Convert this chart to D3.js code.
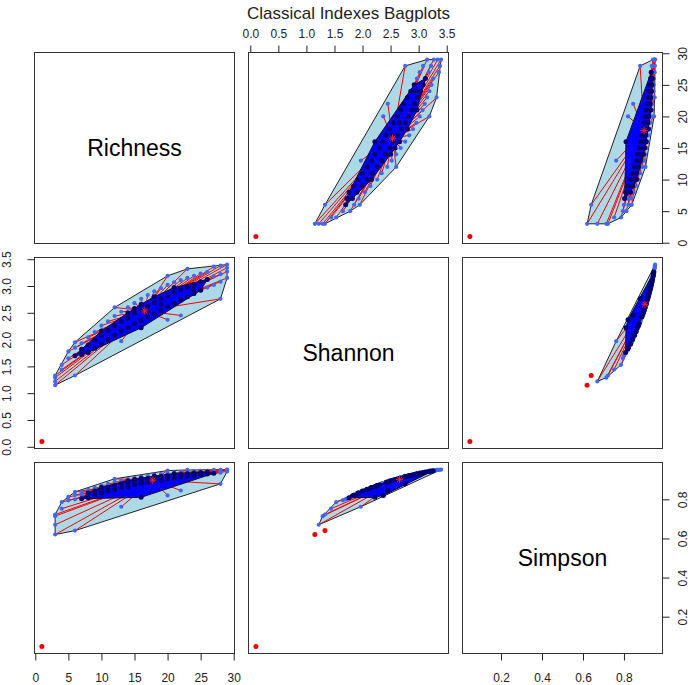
<!DOCTYPE html>
<meta charset="utf-8">
<style>
body { margin: 0; background: #fff; }
text { font-family: "Liberation Sans", Arial, sans-serif; }
.box { fill: none; stroke: #333; stroke-width: 1px; }
.loop { fill: lightblue; stroke: #222; stroke-width: 1px; }
.bag { fill: #0000ff; stroke: #111; stroke-width: 1px; }
.whisker { stroke: red; stroke-width: 1px; }
</style>
<body>
<script src="https://d3js.org/d3.v7.min.js"></script>
<script>

// variables (diagonal labels)
var varNames = ["Richness", "Shannon", "Simpson"];

// one entry per sample
var richness = [1, 3, 6, 3, 3, 3, 4, 4, 5, 5,
  6, 6, 6, 7, 7, 7, 8, 8, 8, 9,
  9, 9, 10, 10, 10, 11, 11, 11, 12, 12,
  12, 12, 13, 13, 13, 13, 14, 14, 14, 15,
  15, 15, 16, 16, 16, 16, 17, 17, 17, 18,
  18, 18, 19, 19, 19, 20, 20, 20, 20, 20,
  21, 21, 21, 22, 22, 22, 22, 23, 23, 23,
  23, 24, 24, 24, 25, 25, 25, 26, 26, 26,
  27, 27, 27, 28, 28, 28, 28, 29, 29, 29,
  29, 10, 14, 18, 16, 19, 21, 24, 17, 15];

var shannon = [0.10, 1.15, 1.33, 1.22, 1.29, 1.33, 1.44, 1.53, 1.65, 1.78,
  1.95, 1.70, 1.85, 1.72, 1.93, 1.82, 2.04, 1.76, 1.90, 2.14,
  1.84, 1.99, 2.26, 1.92, 2.08, 2.34, 2.00, 2.17, 2.60, 2.44,
  2.08, 2.26, 1.97, 2.52, 2.16, 2.34, 2.60, 2.22, 2.41, 2.68,
  2.30, 2.49, 2.22, 2.76, 2.36, 2.56, 2.83, 2.42, 2.62, 2.90,
  2.48, 2.69, 2.96, 2.55, 2.76, 3.19, 2.37, 2.62, 2.82, 3.02,
  2.68, 2.88, 3.07, 2.45, 2.74, 2.93, 3.11, 3.32, 2.80, 2.98,
  3.15, 2.86, 3.03, 3.19, 2.92, 3.08, 3.23, 2.97, 3.12, 3.26,
  3.36, 3.02, 3.18, 3.38, 2.76, 3.08, 3.22, 3.40, 3.27, 3.15,
  3.34, 2.16, 2.50, 2.80, 2.66, 2.66, 2.97, 2.95, 2.52, 2.58];

var simpson = [0.048, 0.620, 0.640, 0.670, 0.714, 0.722, 0.752, 0.786, 0.795, 0.812,
  0.838, 0.800, 0.822, 0.803, 0.836, 0.818, 0.848, 0.808, 0.832, 0.858,
  0.822, 0.843, 0.870, 0.832, 0.852, 0.880, 0.842, 0.862, 0.905, 0.889,
  0.850, 0.870, 0.762, 0.896, 0.860, 0.880, 0.903, 0.866, 0.887, 0.910,
  0.875, 0.894, 0.810, 0.916, 0.882, 0.900, 0.921, 0.887, 0.905, 0.926,
  0.893, 0.911, 0.930, 0.899, 0.916, 0.947, 0.820, 0.904, 0.920, 0.934,
  0.909, 0.924, 0.937, 0.845, 0.914, 0.928, 0.940, 0.950, 0.918, 0.931,
  0.942, 0.922, 0.934, 0.944, 0.927, 0.937, 0.945, 0.930, 0.939, 0.946,
  0.950, 0.933, 0.942, 0.951, 0.879, 0.936, 0.944, 0.952, 0.947, 0.942,
  0.950, 0.861, 0.895, 0.919, 0.908, 0.908, 0.931, 0.929, 0.896, 0.901];

// samples drawn as red outliers in each pair of indexes
var outliersRichShan = [0];
var outliersRichSimp = [0];
var outliersShanSimp = [0, 1, 2];

// tick labels
var ticksRichness = [0, 5, 10, 15, 20, 25, 30];
var ticksShannon = [0.0, 0.5, 1.0, 1.5, 2.0, 2.5, 3.0, 3.5];
var ticksSimpson = [0.2, 0.4, 0.6, 0.8];

var series = [richness, shannon, simpson];
var outliers = {"0-1": outliersRichShan, "0-2": outliersRichSimp, "1-2": outliersShanSimp};

// panel layout
var panelW = 200, panelH = 191, gap = 14, offX = 34.5, offY = 52.5;
var colX = [0, 1, 2].map(function(j) { return offX + j * (panelW + gap); });
var rowY = [0, 1, 2].map(function(i) { return offY + i * (panelH + gap); });

// R style 4% padding on every range
var domains = series.map(function(v) {
  var e = d3.extent(v), p = (e[1] - e[0]) * 0.04;
  return [e[0] - p, e[1] + p];
});

var svg = d3.select("body").append("svg")
  .attr("width", 690)
  .attr("height", 685);

// exact halfspace (Tukey) depth of location p among pts
function depthAt(p, pts) {
  var ang = [], same = 0;
  pts.forEach(function(q) {
    var dx = q[0] - p[0], dy = q[1] - p[1];
    if (Math.abs(dx) < 1e-12 && Math.abs(dy) < 1e-12) same++;
    else ang.push(Math.atan2(dy, dx));
  });
  var m = ang.length, best = 0;
  for (var i = 0; i < m; i++) {
    var c = 0;
    for (var j = 0; j < m; j++) {
      var d = ang[j] - ang[i];
      if (d < 0) d += 2 * Math.PI;
      if (d < Math.PI - 1e-12) c++;
    }
    if (c > best) best = c;
  }
  return m - best + same;
}

// bag (deepest half) and Tukey median for a pair of indexes
var bags = {};
[[0, 1], [0, 2], [1, 2]].forEach(function(pr) {
  var a = series[pr[0]], b = series[pr[1]];
  var ea = d3.extent(a), eb = d3.extent(b);
  var pts = a.map(function(v, k) {
    return [(v - ea[0]) / (ea[1] - ea[0]), (b[k] - eb[0]) / (eb[1] - eb[0])];
  });
  var dep = pts.map(function(p) { return depthAt(p, pts); });
  var order = d3.range(pts.length).sort(function(p, q) { return dep[q] - dep[p]; });
  var half = order.slice(0, Math.floor(pts.length / 2));

  // search the deepest region on a grid over the bag
  var gx = d3.extent(half, function(k) { return pts[k][0]; });
  var gy = d3.extent(half, function(k) { return pts[k][1]; });
  var steps = 60, best = -1, acc = [];
  for (var u = 0; u <= steps; u++) {
    for (var v = 0; v <= steps; v++) {
      var g = [gx[0] + (gx[1] - gx[0]) * u / steps, gy[0] + (gy[1] - gy[0]) * v / steps];
      var dd = depthAt(g, pts);
      if (dd > best) { best = dd; acc = [g]; }
      else if (dd === best) acc.push(g);
    }
  }
  var mx = d3.mean(acc, function(g) { return g[0]; }), my = d3.mean(acc, function(g) { return g[1]; });

  // ties in depth broken by closeness to the median
  order.sort(function(p, q) {
    if (dep[q] !== dep[p]) return dep[q] - dep[p];
    return Math.hypot(pts[p][0] - mx, pts[p][1] - my) - Math.hypot(pts[q][0] - mx, pts[q][1] - my);
  });
  var c = {};
  c[pr[0]] = ea[0] + mx * (ea[1] - ea[0]);
  c[pr[1]] = eb[0] + my * (eb[1] - eb[0]);
  bags[pr.join("-")] = {inBag: new Set(order.slice(0, Math.floor(pts.length / 2))), center: c};
});

function star(s) {
  var d = s * 0.72;
  return "M" + (-s) + ",0H" + s + "M0," + (-s) + "V" + s +
    "M" + (-d) + "," + (-d) + "L" + d + "," + d + "M" + (-d) + "," + d + "L" + d + "," + (-d);
}

function drawPanel(i, j) {
  var x = d3.scaleLinear().domain(domains[j]).range([colX[j], colX[j] + panelW]);
  var y = d3.scaleLinear().domain(domains[i]).range([rowY[i] + panelH, rowY[i]]);
  var g = svg.append("g");
  var key = Math.min(i, j) + "-" + Math.max(i, j);
  var bag = bags[key], out = new Set(outliers[key]);
  var idx = d3.range(richness.length);
  var px = function(k) { return [x(series[j][k]), y(series[i][k])]; };
  var keep = idx.filter(function(k) { return !out.has(k); });

  var loopHull = d3.polygonHull(keep.map(px));
  var bagHull = d3.polygonHull(Array.from(bag.inBag).map(px));
  var inside = function(k) { return bag.inBag.has(k) || d3.polygonContains(bagHull, px(k)); };
  var loopPts = keep.filter(function(k) { return !inside(k); });
  var bagPts = keep.filter(inside);
  var cxy = [x(bag.center[j]), y(bag.center[i])];

  g.append("path").attr("class", "loop").attr("d", "M" + loopHull.join("L") + "Z");

  g.selectAll(".whisker").data(loopPts).enter().append("line")
    .attr("class", "whisker")
    .attr("x1", function(k) { return px(k)[0]; })
    .attr("y1", function(k) { return px(k)[1]; })
    .attr("x2", cxy[0]).attr("y2", cxy[1]);

  g.selectAll(".lp").data(loopPts).enter().append("circle")
    .attr("cx", function(k) { return px(k)[0]; })
    .attr("cy", function(k) { return px(k)[1]; })
    .attr("r", 2.1).attr("fill", "#4466ee");

  g.append("path").attr("class", "bag").attr("d", "M" + bagHull.join("L") + "Z");

  g.selectAll(".bp").data(bagPts).enter().append("circle")
    .attr("cx", function(k) { return px(k)[0]; })
    .attr("cy", function(k) { return px(k)[1]; })
    .attr("r", 2.5).attr("fill", "#000070");

  g.selectAll(".op").data(Array.from(out)).enter().append("circle")
    .attr("cx", function(k) { return px(k)[0]; })
    .attr("cy", function(k) { return px(k)[1]; })
    .attr("r", 2.5).attr("fill", "#ee0000");

  g.append("path")
    .attr("transform", "translate(" + cxy[0] + "," + cxy[1] + ")")
    .attr("d", star(3.6)).attr("stroke", "#ff2020").attr("stroke-width", 1).attr("fill", "none");
}

for (var i = 0; i < 3; i++) {
  for (var j = 0; j < 3; j++) {
    if (i === j) {
      svg.append("text")
        .attr("x", colX[i] + panelW / 2)
        .attr("y", rowY[i] + panelH / 2 + 8)
        .attr("text-anchor", "middle")
        .attr("font-size", 23)
        .text(varNames[i]);
    } else {
      drawPanel(i, j);
    }
    svg.append("rect").attr("class", "box")
      .attr("x", colX[j]).attr("y", rowY[i])
      .attr("width", panelW).attr("height", panelH);
  }
}

// axes on the outer margins, as pairs() puts them
var fmt1 = d3.format(".1f"), fmt0 = d3.format("d");
function addAxis(side, v, ticks, fmt, pos, tx, ty) {
  var sc = d3.scaleLinear().domain(domains[v]).range(pos);
  var maker = {top: d3.axisTop, bottom: d3.axisBottom, left: d3.axisLeft, right: d3.axisRight}[side];
  var g = svg.append("g")
    .attr("transform", "translate(" + tx + "," + ty + ")")
    .call(maker(sc).tickValues(ticks).tickFormat(fmt).tickSizeInner(7).tickSizeOuter(0));
  g.attr("font-size", 12).attr("font-family", "'Liberation Sans', Arial, sans-serif").attr("color", "#222");
  g.select(".domain").remove();
  var t = g.selectAll("text").attr("dy", 0);
  if (side === "top") t.attr("y", -14.8);
  if (side === "bottom") t.attr("y", 28);
  if (side === "left" || side === "right") {
    t.attr("transform", "rotate(-90)").attr("x", 0)
      .attr("y", side === "left" ? -23.5 : 24.5)
      .attr("text-anchor", "middle");
  }
}

addAxis("top", 1, ticksShannon, fmt1, [colX[1], colX[1] + panelW], 0, rowY[0]);
addAxis("bottom", 0, ticksRichness, fmt0, [colX[0], colX[0] + panelW], 0, rowY[2] + panelH);
addAxis("bottom", 2, ticksSimpson, fmt1, [colX[2], colX[2] + panelW], 0, rowY[2] + panelH);
addAxis("left", 1, ticksShannon, fmt1, [rowY[1] + panelH, rowY[1]], colX[0], 0);
addAxis("right", 0, ticksRichness, fmt0, [rowY[0] + panelH, rowY[0]], colX[2] + panelW, 0);
addAxis("right", 2, ticksSimpson, fmt1, [rowY[2] + panelH, rowY[2]], colX[2] + panelW, 0);

// title
svg.append("text")
  .attr("x", (colX[0] + colX[2] + panelW) / 2)
  .attr("y", 19)
  .attr("text-anchor", "middle")
  .attr("font-size", 17)
  .attr("fill", "#222")
  .text("Classical Indexes Bagplots");

</script>
</body>
